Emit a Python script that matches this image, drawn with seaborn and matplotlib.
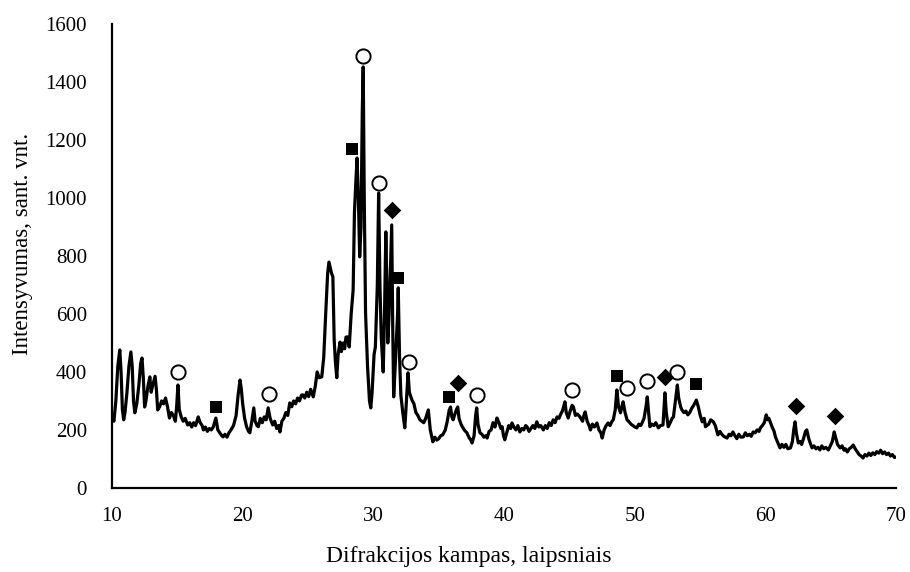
import numpy as np
import pandas as pd
import matplotlib
matplotlib.use("Agg")
import matplotlib.pyplot as plt
import seaborn as sns

# ---- data ----
two_theta = [
    10.0, 10.15, 10.3, 10.45, 10.6, 10.7, 10.8, 10.9, 11.0, 11.15, 11.3, 11.45, 11.55, 11.65, 11.75, 11.9,
    12.05, 12.2, 12.3, 12.4, 12.5, 12.6, 12.75, 12.9, 13.0, 13.1, 13.3, 13.4, 13.5, 13.65, 13.8, 13.95,
    14.1, 14.25, 14.4, 14.55, 14.7, 14.85, 14.95, 15.05, 15.15, 15.3, 15.45, 15.6, 15.8, 15.95, 16.1, 16.25,
    16.4, 16.6, 16.75, 16.9, 17.0, 17.15, 17.3, 17.45, 17.6, 17.75, 17.95, 18.1, 18.25, 18.4, 18.5, 18.65,
    18.8, 18.95, 19.1, 19.3, 19.5, 19.65, 19.8, 19.9, 20.0, 20.15, 20.3, 20.45, 20.55, 20.7, 20.85, 20.95,
    21.1, 21.2, 21.35, 21.5, 21.65, 21.8, 21.95, 22.1, 22.3, 22.45, 22.6, 22.75, 22.85, 23.0, 23.15, 23.3,
    23.45, 23.6, 23.75, 23.9, 24.05, 24.2, 24.35, 24.5, 24.6, 24.75, 24.9, 25.05, 25.2, 25.4, 25.55, 25.7,
    25.85, 26.05, 26.2, 26.35, 26.5, 26.6, 26.7, 26.8, 26.9, 27.0, 27.1, 27.2, 27.3, 27.45, 27.55, 27.7,
    27.8, 27.9, 28.0, 28.1, 28.15, 28.3, 28.45, 28.55, 28.65, 28.75, 28.85, 28.95, 29.05, 29.15, 29.22, 29.3,
    29.4, 29.55, 29.7, 29.8, 29.9, 30.05, 30.15, 30.3, 30.4, 30.5, 30.6, 30.75, 30.85, 30.95, 31.05, 31.1,
    31.2, 31.3, 31.4, 31.48, 31.55, 31.7, 31.85, 31.9, 32.0, 32.1, 32.25, 32.4, 32.5, 32.65, 32.75, 32.95,
    33.1, 33.25, 33.4, 33.55, 33.7, 33.85, 34.0, 34.2, 34.35, 34.55, 34.7, 34.85, 35.0, 35.15, 35.3, 35.5,
    35.65, 35.8, 35.9, 36.0, 36.1, 36.2, 36.35, 36.45, 36.55, 36.7, 36.8, 36.95, 37.15, 37.3, 37.45, 37.55,
    37.7, 37.82, 37.9, 38.0, 38.15, 38.3, 38.45, 38.6, 38.7, 38.85, 39.0, 39.15, 39.3, 39.45, 39.6, 39.75,
    39.85, 39.95, 40.05, 40.2, 40.35, 40.5, 40.6, 40.75, 40.9, 41.05, 41.2, 41.35, 41.5, 41.65, 41.75, 41.9,
    42.05, 42.2, 42.35, 42.5, 42.65, 42.8, 43.0, 43.15, 43.3, 43.45, 43.6, 43.75, 43.9, 44.05, 44.2, 44.3,
    44.45, 44.55, 44.65, 44.75, 44.9, 45.05, 45.2, 45.3, 45.45, 45.6, 45.8, 46.0, 46.1, 46.2, 46.35, 46.5,
    46.6, 46.75, 46.9, 47.1, 47.25, 47.4, 47.5, 47.65, 47.8, 47.95, 48.1, 48.25, 48.35, 48.5, 48.62, 48.75,
    48.9, 49.0, 49.1, 49.25, 49.4, 49.55, 49.7, 49.85, 50.0, 50.15, 50.3, 50.45, 50.55, 50.7, 50.85, 50.95,
    51.05, 51.15, 51.3, 51.45, 51.6, 51.8, 51.95, 52.15, 52.3, 52.4, 52.55, 52.7, 52.85, 52.95, 53.1, 53.25,
    53.35, 53.5, 53.6, 53.75, 53.9, 54.05, 54.2, 54.35, 54.5, 54.7, 54.85, 55.0, 55.15, 55.3, 55.4, 55.5,
    55.65, 55.8, 56.0, 56.15, 56.35, 56.5, 56.65, 56.8, 57.05, 57.2, 57.35, 57.5, 57.65, 57.8, 57.95, 58.1,
    58.3, 58.45, 58.6, 58.75, 58.9, 59.05, 59.2, 59.35, 59.5, 59.6, 59.75, 59.9, 60.05, 60.15, 60.25, 60.35,
    60.5, 60.65, 60.75, 60.9, 61.0, 61.1, 61.25, 61.4, 61.55, 61.7, 61.9, 62.05, 62.15, 62.25, 62.35, 62.5,
    62.65, 62.75, 62.9, 63.05, 63.15, 63.3, 63.45, 63.55, 63.7, 63.85, 64.0, 64.15, 64.3, 64.45, 64.6, 64.8,
    64.95, 65.1, 65.25, 65.35, 65.5, 65.7, 65.85, 66.0, 66.1, 66.25, 66.4, 66.55, 66.7, 66.85, 67.0, 67.15,
    67.3, 67.45, 67.6, 67.75, 67.9, 68.05, 68.2, 68.35, 68.5, 68.65, 68.8, 68.95, 69.1, 69.25, 69.4, 69.55,
    69.7, 69.85, 70.0,
]
intensity = [
    250, 230, 300, 420, 476, 400, 270, 235, 260, 330, 420, 469, 420, 300, 259, 290,
    350, 430, 448, 380, 279, 300, 350, 383, 330, 350, 385, 340, 269, 280, 300, 290,
    310, 280, 241, 260, 250, 230, 280, 355, 270, 245, 230, 240, 217, 225, 210, 225,
    215, 245, 225, 215, 200, 210, 195, 205, 200, 210, 241, 200, 190, 180, 176, 185,
    175, 190, 200, 215, 250, 320, 372, 340, 290, 240, 211, 195, 190, 230, 276, 230,
    215, 211, 240, 225, 245, 235, 276, 240, 217, 230, 205, 215, 193, 230, 240, 260,
    250, 293, 280, 300, 290, 310, 300, 320, 321, 310, 330, 315, 340, 314, 350, 400,
    380, 383, 450, 600, 740, 779, 760, 740, 728, 510, 430, 380, 460, 503, 470, 500,
    480, 520, 521, 500, 486, 600, 683, 950, 1050, 1138, 1000, 797, 900, 1300, 1452, 1000,
    603, 420, 300, 276, 330, 460, 486, 700, 1017, 700, 520, 400, 600, 883, 650, 500,
    600, 750, 907, 550, 314, 450, 600, 690, 450, 320, 259, 207, 280, 397, 330, 303,
    290, 260, 250, 235, 230, 225, 240, 269, 200, 159, 175, 165, 170, 180, 183, 200,
    230, 269, 279, 245, 235, 250, 270, 279, 240, 220, 211, 200, 190, 175, 165, 155,
    180, 250, 276, 220, 190, 185, 175, 180, 172, 195, 200, 225, 210, 241, 225, 205,
    211, 180, 166, 190, 215, 205, 224, 210, 200, 215, 193, 205, 200, 215, 211, 195,
    205, 215, 205, 228, 210, 215, 200, 215, 205, 225, 215, 235, 225, 245, 240, 252,
    265, 280, 297, 260, 241, 265, 285, 279, 250, 255, 245, 230, 250, 262, 230, 215,
    200, 220, 210, 224, 200, 190, 172, 200, 215, 224, 215, 230, 235, 270, 338, 280,
    259, 280, 297, 260, 235, 228, 220, 215, 210, 207, 220, 215, 224, 240, 280, 314,
    260, 211, 220, 215, 225, 207, 215, 217, 328, 260, 211, 225, 240, 245, 300, 355,
    310, 280, 269, 260, 265, 252, 260, 275, 285, 303, 280, 250, 228, 240, 211, 215,
    220, 235, 228, 215, 183, 195, 185, 178, 172, 185, 180, 193, 180, 170, 185, 175,
    176, 190, 180, 185, 178, 193, 190, 200, 195, 207, 215, 225, 252, 235, 240, 228,
    210, 195, 176, 160, 150, 138, 150, 140, 150, 135, 138, 160, 200, 228, 190, 155,
    160, 150, 170, 195, 200, 170, 150, 138, 145, 135, 140, 131, 145, 135, 140, 131,
    145, 160, 193, 175, 150, 138, 145, 130, 135, 124, 135, 140, 148, 135, 125, 115,
    110, 103, 115, 110, 120, 112, 121, 115, 125, 120, 130, 118, 124, 115, 120, 110,
    115, 105, 107,
]

circle_x = [15.05, 22.0, 29.2, 30.4, 32.7, 37.9, 45.2, 49.4, 50.95, 53.25]
circle_y = [400, 325, 1490, 1052, 434, 321, 338, 345, 369, 400]
square_x = [17.95, 28.35, 31.9, 35.8, 48.65, 54.7]
square_y = [279, 1169, 724, 314, 386, 359]
diamond_x = [31.4, 36.5, 52.3, 62.3, 65.3]
diamond_y = [959, 362, 383, 283, 248]

x_ticks = [10, 20, 30, 40, 50, 60, 70]
y_ticks = [0, 200, 400, 600, 800, 1000, 1200, 1400, 1600]
x_label = "Difrakcijos kampas, laipsniais"
y_label = "Intensyvumas, sant. vnt."

# ---- plotting ----
sns.set_theme(style="white")
plt.rcParams["font.family"] = ["Liberation Serif", "DejaVu Serif"]

fig = plt.figure(figsize=(9.1, 5.72), dpi=100)
ax = fig.add_axes([0.123, 0.147, 0.862, 0.811])

df = pd.DataFrame({"x": two_theta, "y": intensity})
sns.lineplot(data=df, x="x", y="y", ax=ax, color="black", linewidth=2.3,
             estimator=None, sort=False)

sns.scatterplot(x=circle_x, y=circle_y, ax=ax, marker="o", s=105,
                facecolor="white", edgecolor="black", linewidth=1.4, zorder=5)
sns.scatterplot(x=square_x, y=square_y, ax=ax, marker="s", s=70,
                color="black", edgecolor="black", linewidth=0, zorder=5)
sns.scatterplot(x=diamond_x, y=diamond_y, ax=ax, marker="D", s=80,
                color="black", edgecolor="black", linewidth=0, zorder=5)

ax.set_xlim(10, 70)
ax.set_ylim(0, 1600)
ax.set_xticks(x_ticks)
ax.set_yticks(y_ticks)
ax.set_xticklabels([str(v) for v in x_ticks])
ax.set_yticklabels([str(v) for v in y_ticks])
ax.tick_params(axis="both", length=0, labelsize=15, colors="black")
ax.tick_params(axis="y", pad=18)
ax.tick_params(axis="x", pad=14)
ax.set_xlabel(x_label, fontsize=17, color="black")
ax.set_ylabel(y_label, fontsize=16.5, color="black")
ax.xaxis.set_label_coords(0.455, -0.125)
ax.yaxis.set_label_coords(-0.100, 0.525)

for side in ["top", "right"]:
    ax.spines[side].set_visible(False)
for side in ["left", "bottom"]:
    ax.spines[side].set_color("black")
    ax.spines[side].set_linewidth(1.6)
ax.grid(False)

fig.savefig("out.png", dpi=100)
